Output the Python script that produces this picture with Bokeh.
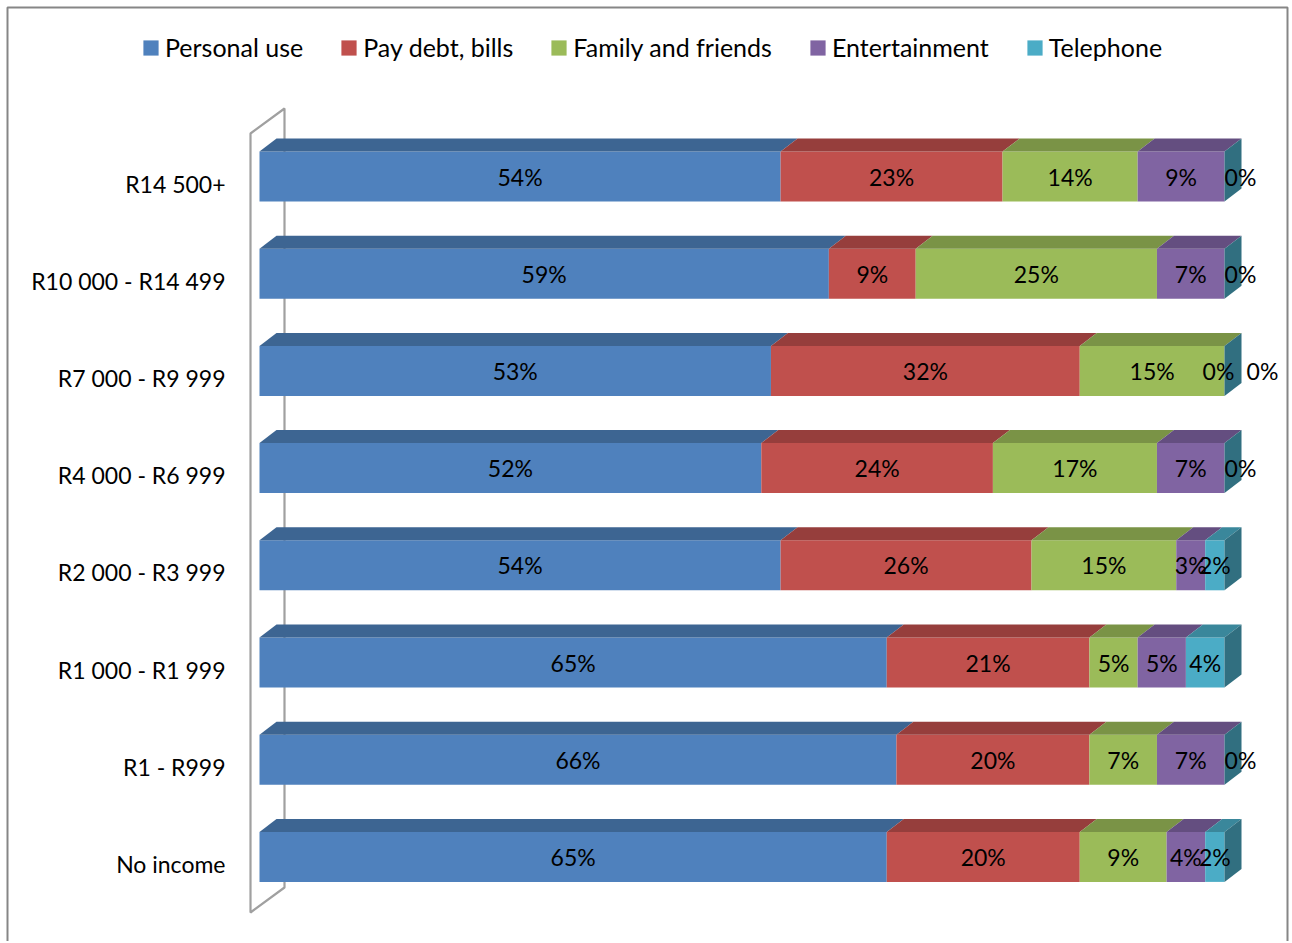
from bokeh.plotting import figure
from bokeh.models import Range1d, Legend, LegendItem
from bokeh.core.properties import value
from bokeh.embed import file_html
from bokeh.resources import INLINE

# ---------------- data ----------------
categories = ["No income", "R1 - R999", "R1 000 - R1 999", "R2 000 - R3 999",
              "R4 000 - R6 999", "R7 000 - R9 999", "R10 000 - R14 499", "R14 500+"]
series_names = ["Personal use", "Pay debt, bills", "Family and friends", "Entertainment", "Telephone"]
personal_use = [65, 66, 65, 54, 52, 53, 59, 54]
pay_debt = [20, 20, 21, 26, 24, 32, 9, 23]
family_friends = [9, 7, 5, 15, 17, 15, 25, 14]
entertainment = [4, 7, 5, 3, 7, 0, 7, 9]
telephone = [2, 0, 4, 2, 0, 0, 0, 0]
series_values = [personal_use, pay_debt, family_friends, entertainment, telephone]

front_colors = ["#4F81BD", "#C0504D", "#9BBB59", "#8064A2", "#4BACC6"]
top_colors = ["#3D6592", "#963E3C", "#7A9346", "#644E80", "#3A879B"]
side_color = "#316F80"

# ---------------- layout constants ----------------
W, H = 1290, 941
PX_PER_PCT = 9.65      # pixels per percentage point
X0_PX = 259            # canvas x of 0 %
PX_PER_ROW = 97.2
TOP_ROW_PX = 176       # canvas y of top row centre
FONT = value("Lato")
FS = "23px"

n = len(categories)
x_range = Range1d(-X0_PX / PX_PER_PCT, (W - X0_PX) / PX_PER_PCT)
y_range = Range1d((n - 1) - (H - TOP_ROW_PX) / PX_PER_ROW, (n - 1) + TOP_ROW_PX / PX_PER_ROW)


def px_x(px):
    return (px - X0_PX) / PX_PER_PCT


def px_y(py):
    return (n - 1) - (py - TOP_ROW_PX) / PX_PER_ROW


p = figure(width=W, height=H, x_range=x_range, y_range=y_range,
           x_axis_type=None, y_axis_type=None, toolbar_location=None,
           output_backend="svg", min_border=0)
p.outline_line_color = None
p.background_fill_color = "white"
p.border_fill_color = "white"

# chart border (bottom edge lies outside the view)
p.line([px_x(7), px_x(7), px_x(1287), px_x(1287)], [px_y(H + 20), px_y(7), px_y(7), px_y(H + 20)],
       line_color="#868686", line_width=2)

dx = 17 / PX_PER_PCT
dy = 13 / PX_PER_ROW
hh = 25 / PX_PER_ROW

# ---------------- back wall ----------------
wf_l = -9 / PX_PER_PCT
wb_l = 25 / PX_PER_PCT
wf_top = (n - 1) + 43 / PX_PER_ROW
wf_bot = -55.6 / PX_PER_ROW
wshift = 25 / PX_PER_ROW
p.patch([wf_l, wb_l, wb_l, wf_l], [wf_top, wf_top + wshift, wf_bot + wshift, wf_bot],
        fill_color=None, line_color="#A0A0A0", line_width=2.2)

# ---------------- bars ----------------
rows = list(range(n))
totals = [sum(s[i] for s in series_values) for i in rows]
lefts = [0.0] * n
legend_items = []
top_xs, top_ys, top_cols = [], [], []
seg_bounds = [[] for _ in rows]
for k, (name, vals) in enumerate(zip(series_names, series_values)):
    pct = [100.0 * v / t for v, t in zip(vals, totals)]
    rights = [l + w for l, w in zip(lefts, pct)]
    r = p.quad(left=lefts, right=rights, top=[i + hh for i in rows], bottom=[i - hh for i in rows],
               fill_color=front_colors[k], line_color=None)
    legend_items.append(LegendItem(label=name, renderers=[r]))
    for i in rows:
        seg_bounds[i].append((lefts[i], rights[i], vals[i]))
        if pct[i] > 0:
            x0, x1 = lefts[i], rights[i]
            top_xs.append([x0, x1, x1 + dx, x0 + dx])
            top_ys.append([i + hh, i + hh, i + hh + dy, i + hh + dy])
            top_cols.append(top_colors[k])
    lefts = rights

p.patches(top_xs, top_ys, fill_color=top_cols, line_color=None)
p.patches([[100, 100 + dx, 100 + dx, 100] for i in rows],
          [[i + hh, i + hh + dy, i - hh + dy, i - hh] for i in rows],
          fill_color=side_color, line_color=None)

# ---------------- data labels ----------------
lx, ly, lt = [], [], []
for i in rows:
    segs = seg_bounds[i]
    m = 0
    for s in reversed(segs):
        if s[2] == 0:
            m += 1
        else:
            break
    for j, (a, b, v) in enumerate(segs):
        if j >= len(segs) - m:
            kk = j - (len(segs) - m)
            x = 100 + (16 + (kk - (m - 1) / 2) * 44) / PX_PER_PCT
        else:
            x = (a + b) / 2
        lx.append(x)
        ly.append(i)
        lt.append(f"{v}%")
p.text(x=lx, y=ly, text=lt, text_font=FONT, text_font_size=FS, text_color="black",
       text_align="center", text_baseline="middle")

# ---------------- category labels ----------------
p.text(x=[-34 / PX_PER_PCT] * n, y=[i - 7 / PX_PER_ROW for i in rows], text=categories,
       text_font=FONT, text_font_size=FS, text_color="black",
       text_align="right", text_baseline="middle")

# ---------------- legend ----------------
legend = Legend(items=legend_items, orientation="horizontal", location=(141, H - 62))
legend.border_line_color = None
legend.background_fill_alpha = 0
legend.label_text_font = "Lato"
legend.label_text_font_size = "25px"
legend.label_text_color = "black"
legend.glyph_width = 19
legend.glyph_height = 19
legend.label_standoff = 5
legend.spacing = 36
legend.padding = 0
legend.margin = 0
p.add_layout(legend)

open("out.html", "w").write(file_html(p, INLINE))
